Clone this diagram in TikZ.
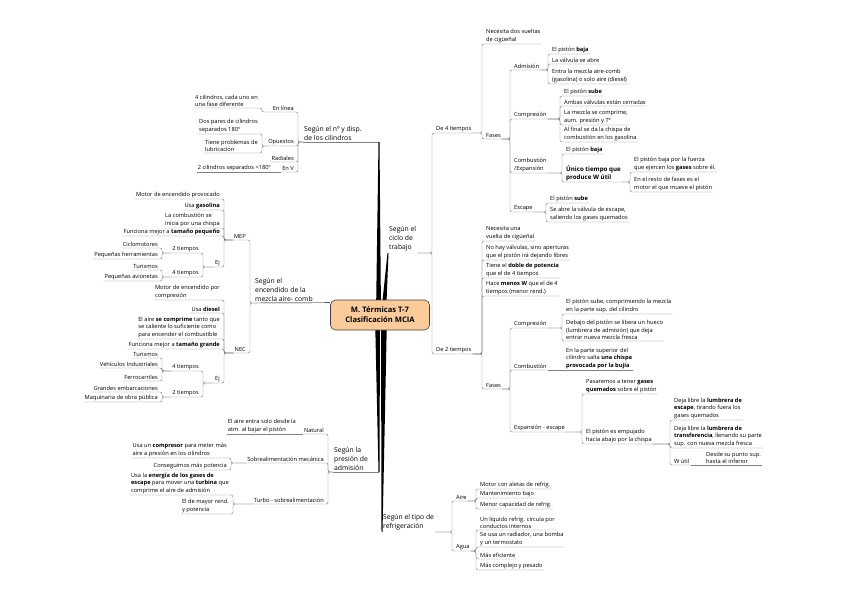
\documentclass[tikz,border=0pt]{standalone}
\usepackage{fontspec}
\setmainfont{Open Sans}
\newcommand\leaffont{\fontsize{5.7}{7.5}\selectfont}
\newcommand\topicfont{\fontsize{6.8}{9}\selectfont}
\newcommand\hubfont{\fontsize{7.6}{10}\selectfont\bfseries}
\definecolor{hubfill}{RGB}{251,204,153}
\definecolor{linegray}{RGB}{128,128,128}
\tikzset{
  leaf/.style={font=\leaffont, inner xsep=1pt, inner ysep=1pt, align=left},
  rgt/.style={leaf, anchor=south west},
  lft/.style={leaf, anchor=south east},
  topic/.style={font=\topicfont, inner xsep=1pt, inner ysep=1.5pt, align=left},
  conn/.style={draw=linegray, line width=0.45pt, rounded corners=2pt},
  mainbranch/.style={fill=black},
  hubnode/.style={draw=black!75, fill=hubfill, rounded corners=5pt, line width=0.6pt,
    minimum width=99pt, minimum height=30pt, align=center, font=\hubfont},
}
\begin{document}
\begin{tikzpicture}[x=1pt, y=-1pt]
\path[fill=white] (0,0) rectangle (848,599);
\coordinate (hub) at (380,315);

% ciclo de trabajo
\node[topic, anchor=south west] (ciclo) at (388,253) {Según el\\ciclo de\\trabajo};
\node[rgt] (c4) at (435,133) {De 4 tiempos};
\node[rgt] (c2) at (435,354) {De 2 tiempos};
\node[rgt] (c4a) at (485,44) {Necesita dos vueltas\\de cigüeñal};
\node[rgt] (f4) at (485,139) {Fases};
\node[rgt] (adm) at (513,70) {Admisión};
\node[rgt] (cmp4) at (513,119) {Compresión};
\node[rgt] (cmb4) at (513,173) {Combustión\\/Expansión};
\node[rgt] (esc4) at (513,212) {Escape};
\node[rgt] (adm1) at (551,54) {El pistón \textbf{baja}};
\node[rgt] (adm2) at (551,64) {La válvula se abre};
\node[rgt] (adm3) at (551,84) {Entra la mezcla aire-comb\\(gasolina) o solo aire (diesel)};
\node[rgt] (cmp4a) at (563,96) {El pistón \textbf{sube}};
\node[rgt] (cmp4b) at (563,106) {Ambas válvulas están cerradas};
\node[rgt] (cmp4c) at (563,125) {La mezcla se comprime,\\aum. presión y Tª};
\node[rgt] (cmp4d) at (563,142) {Al final se da la chispa de\\combustión en los gasolina};
\node[rgt] (cmb4a) at (565,154) {El pistón \textbf{baja}};
\node[rgt, font=\fontsize{6.2}{8}\selectfont\bfseries] (wutil4) at (565,182) {Único tiempo que\\produce W útil};
\node[rgt] (wu4a) at (633,172) {El pistón baja por la fuerza\\que ejercen los \textbf{gases} sobre él.};
\node[rgt] (wu4b) at (633,192) {En el resto de fases es el\\motor el que mueve el pistón};
\node[rgt] (esc4a) at (549,203) {El pistón \textbf{sube}};
\node[rgt] (esc4b) at (549,222) {Se abre la válvula de escape,\\saliendo los gases quemados};
\node[rgt] (c2a) at (485,241) {Necesita una\\vuelta de cigüeñal};
\node[rgt] (c2b) at (485,260) {No hay válvulas, sino aperturas\\que el pistón irá dejando libres};
\node[rgt] (c2c) at (485,278) {Tiene el \textbf{doble de potencia}\\que el de 4 tiempos};
\node[rgt] (c2d) at (485,296) {Hace \textbf{menos W} que el de 4\\tiempos (menor rend.)};
\node[rgt] (f2) at (485,389) {Fases};
\node[rgt] (cmp2) at (513,328) {Compresión};
\node[rgt] (cmb2) at (513,370) {Combustión};
\node[rgt] (exp2) at (513,432) {Expansión - escape};
\node[rgt] (cmp2a) at (565,314) {El pistón sube, comprimiendo la mezcla\\en la parte sup. del cilindro};
\node[rgt] (cmp2b) at (565,341) {Debajo del pistón se libera un hueco\\(lumbrera de admisión) que deja\\entrar nueva mezcla fresca};
\node[rgt] (cmb2a) at (565,370) {En la parte superior del\\cilindro salta \textbf{una chispa}\\\textbf{provocada por la bujía}};
\node[rgt] (exp2a) at (585,394) {Pasaremos a tener \textbf{gases}\\\textbf{quemados} sobre el pistón};
\node[rgt] (emp) at (585,444) {El pistón es empujado\\hacia abajo por la chispa};
\node[rgt] (emp1) at (673,420) {Deja libre la \textbf{lumbrera de}\\\textbf{escape}, tirando fuera los\\gases quemados};
\node[rgt] (emp2) at (673,448) {Deja libre la \textbf{lumbrera de}\\\textbf{transferencia}, llenando su parte\\sup. con nueva mezcla fresca};
\node[rgt] (wutil2) at (673,465) {W útil};
\node[rgt] (wutil2a) at (705,465) {Desde su punto sup.\\hasta el inferior};

% refrigeracion
\node[topic, anchor=south west] (refr) at (382,532) {Según el tipo de\\refrigeración};
\node[rgt] (aire) at (455,501) {Aire};
\node[rgt] (agua) at (455,551) {Agua};
\node[rgt] (aire1) at (479,489) {Motor con aletas de refrig.};
\node[rgt] (aire2) at (479,498) {Mantenimiento bajo};
\node[rgt] (aire3) at (479,509) {Menor capacidad de refrig.};
\node[rgt] (agua1) at (479,530) {Un líquido refrig. circula por\\conductos internos};
\node[rgt] (agua2) at (479,547) {Se usa un radiador, una bomba\\y un termostato};
\node[rgt] (agua3) at (479,559) {Más eficiente};
\node[rgt] (agua4) at (479,570) {Más complejo y pesado};

% cilindros
\node[topic, anchor=south west] (cil) at (303,142) {Según el nº y disp.\\de los cilindros};
\coordinate (cilend) at (379,142);
\node[lft] (lin) at (295,112) {En línea};
\node[lft] (opu) at (295,146) {Opuestos};
\node[lft] (rad) at (295,162) {Radiales};
\node[lft] (env) at (295,172) {En V};
\node[lft] (lin1) at (259,108) {4 cilindros, cada uno en\\una fase diferente};
\node[lft] (opu1) at (259,134) {Dos pares de cilindros\\separados 180º};
\node[lft] (opu2) at (259,153) {Tiene problemas de\\lubricación};
\node[lft] (env1) at (272,172) {2 cilindros separados <180º};

% encendido
\node[topic, anchor=south west] (enc) at (254,303) {Según el\\encendido de la\\mezcla aire- comb};
\node[lft] (mep) at (247,240) {MEP};
\node[lft] (nec) at (247,353) {NEC};
\node[lft] (mep1) at (221,199) {Motor de encendido provocado};
\node[lft] (mep2) at (221,210) {Usa \textbf{gasolina}};
\node[lft] (mep3) at (221,228) {La combustión se\\inicia por una chispa};
\node[lft] (mep4) at (221,236) {Funciona mejor a \textbf{tamaño pequeño}};
\node[lft] (ej1) at (221,267) {Ej};
\node[lft] (t2a) at (200,253) {2 tiempos};
\node[lft] (t4a) at (200,277) {4 tiempos};
\node[lft] (t2a1) at (159,248) {Ciclomotores};
\node[lft] (t2a2) at (159,259) {Pequeñas herramientas};
\node[lft] (t4a1) at (159,270) {Turismos};
\node[lft] (t4a2) at (159,281) {Pequeñas avionetas};
\node[lft] (nec1) at (221,300) {Motor de encendido por\\compresión};
\node[lft] (nec2) at (221,313) {Usa \textbf{diesel}};
\node[lft] (nec3) at (221,339) {El aire \textbf{se comprime} tanto que\\se caliente lo suficiente como\\para encender el combustible};
\node[lft] (nec4) at (221,349) {Funciona mejor a \textbf{tamaño grande}};
\node[lft] (ej2) at (221,383) {Ej};
\node[lft] (t4b) at (200,371) {4 tiempos};
\node[lft] (t2b) at (200,397) {2 tiempos};
\node[lft] (t4b1) at (159,358) {Turismos};
\node[lft] (t4b2) at (159,368) {Vehículos Industriales};
\node[lft] (t4b3) at (159,381) {Ferrocarriles};
\node[lft] (t2b1) at (159,392) {Grandes embarcaciones};
\node[lft] (t2b2) at (159,402) {Maquinaria de obra pública};

% presion de admision
\node[topic, anchor=south west] (pres) at (333,472) {Según la\\presión de\\admisión};
\coordinate (presend) at (379,472);
\node[lft] (nat) at (325,434) {Natural};
\node[lft] (sob) at (325,463) {Sobrealimentación mecánica};
\node[lft] (tur) at (325,504) {Turbo - sobrealimentación};
\node[lft] (nat1) at (297,434) {El aire entra solo desde la\\atm. al bajar el pistón};
\node[lft] (sob1) at (228,458) {Usa un \textbf{compresor} para meter más\\aire a presión en los cilindros};
\node[lft] (sob2) at (228,470) {Conseguimos más potencia};
\node[lft] (tur1) at (230,495) {Usa la \textbf{energía de los gases de}\\\textbf{escape} para mover una \textbf{turbina} que\\comprime el aire de admisión};
\node[lft] (tur2) at (230,514) {El de mayor rend.\\y potencia};

% connectors, right side
\foreach \p/\c in {ciclo/c4, ciclo/c2, c4/c4a, c4/f4, f4/adm, f4/cmp4, f4/cmb4, f4/esc4,
    adm/adm1, adm/adm2, adm/adm3, cmp4/cmp4a, cmp4/cmp4b, cmp4/cmp4c, cmp4/cmp4d,
    cmb4/cmb4a, cmb4/wutil4, wutil4/wu4a, wutil4/wu4b, esc4/esc4a, esc4/esc4b,
    c2/c2a, c2/c2b, c2/c2c, c2/c2d, c2/f2, f2/cmp2, f2/cmb2, f2/exp2,
    cmp2/cmp2a, cmp2/cmp2b, exp2/exp2a, exp2/emp, emp/emp1, emp/emp2, emp/wutil2,
    refr/aire, refr/agua, aire/aire1, aire/aire2, aire/aire3,
    agua/agua1, agua/agua2, agua/agua3, agua/agua4}
  \draw[conn] (\p.south east) -| ([xshift=-3pt]\c.south west) -- (\c.south east);
\draw[conn] (cmb2.south east) -- (cmb2a.south east);
\draw[conn] (wutil2.south east) -- (wutil2a.south east);

% connectors, left side
\foreach \p/\c in {cil/lin, cil/opu, cil/rad, cil/env, lin/lin1, opu/opu1, opu/opu2,
    enc/mep, enc/nec, mep/mep1, mep/mep2, mep/mep3, mep/mep4, mep/ej1,
    ej1/t2a, ej1/t4a, t2a/t2a1, t2a/t2a2, t4a/t4a1, t4a/t4a2,
    nec/nec1, nec/nec2, nec/nec3, nec/nec4, nec/ej2, ej2/t4b, ej2/t2b,
    t4b/t4b1, t4b/t4b2, t4b/t4b3, t2b/t2b1, t2b/t2b2,
    pres/nat, pres/sob, pres/tur, sob/sob1, sob/sob2, tur/tur1, tur/tur2}
  \draw[conn] (\p.south west) -| ([xshift=3pt]\c.south east) -- (\c.south west);
\draw[conn] (env.south west) -- (env1.south west);
\draw[conn] (nat.south west) -- (nat1.south west);
\draw[conn] (cil.south west) -- (cilend);
\draw[conn] (pres.south west) -- (presend);

% main branches
\fill[mainbranch] ([xshift=-4pt]hub) -- ([xshift=-0.5pt]cilend) -- ([xshift=0.5pt]cilend) -- ([xshift=1pt]hub) -- cycle;
\fill[mainbranch] ([xshift=1pt]hub) -- ([xshift=-0.5pt]ciclo.south west) -- ([xshift=0.5pt]ciclo.south west) -- ([xshift=6pt]hub) -- cycle;
\fill[mainbranch] ([xshift=-5pt]hub) -- ([xshift=-0.5pt]presend) -- ([xshift=0.5pt]presend) -- ([xshift=0pt]hub) -- cycle;
\fill[mainbranch] ([xshift=1pt]hub) -- ([xshift=-0.5pt]refr.south west) -- ([xshift=0.5pt]refr.south west) -- ([xshift=7pt]hub) -- cycle;

\node[hubnode] (mcia) at (hub) {M. Térmicas T-7\\Clasificación MCIA};
\draw[conn, draw=black] (enc.south west) -- ([yshift=-3pt]mcia.north west);
\end{tikzpicture}
\end{document}
